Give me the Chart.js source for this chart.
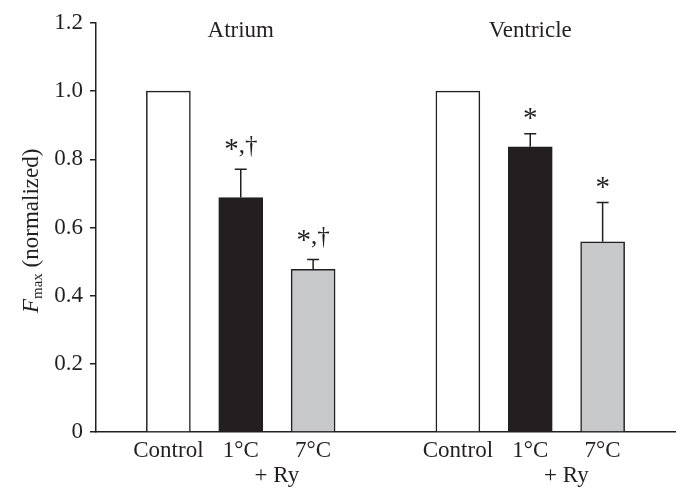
<!DOCTYPE html>
<html>
<head>
<meta charset="utf-8">
<script src="https://cdn.jsdelivr.net/npm/chart.js@4"></script>
<style>
  html, body { margin: 0; padding: 0; background: #fff; }
</style>
</head>
<body>
<canvas id="fmaxChart" width="680" height="489"></canvas>
<script>
// --- data ---
const groups = ['Atrium', 'Ventricle'];
const conditions = ['Control', '1°C', '7°C'];
const atriumMeans = [1.0, 0.688, 0.477];
const atriumErr = [0, 0.083, 0.029];
const ventricleMeans = [1.0, 0.837, 0.558];
const ventricleErr = [0, 0.038, 0.115];
const atriumMarks = ['', '*,†', '*,†'];
const ventricleMarks = ['', '*', '*'];
const yTicks = [0, 0.2, 0.4, 0.6, 0.8, 1.0, 1.2];

const ink = '#231f20';
const barColors = ['#ffffff', ink, '#c7c8ca'];
const serif = '"Liberation Serif", "Times New Roman", serif';

// one empty slot before, between and after the two groups
const labels = ['', ...conditions, '', ...conditions, ''];
const values = [null, ...atriumMeans, null, ...ventricleMeans, null];
const errors = [0, ...atriumErr, 0, ...ventricleErr, 0];
const marks = ['', ...atriumMarks, '', ...ventricleMarks, ''];
const colors = ['#fff', ...barColors, '#fff', ...barColors, '#fff'];

// draws a mark like "*,†" centred on px; the asterisk is drawn bigger and lower
function drawMark(ctx, text, px, capY) {
    const hasDagger = text.length > 1;
    const base = capY - (hasDagger ? 16 : 12);
    const starFont = '29px ' + serif;
    const restFont = '25px ' + serif;
    const rest = text.slice(1);
    ctx.font = starFont;
    const star = ctx.measureText('*');
    ctx.font = restFont;
    const restW = rest ? ctx.measureText(rest).width : 0;
    let left = px - (star.width + restW) / 2;
    ctx.textAlign = 'left';
    ctx.textBaseline = 'alphabetic';
    ctx.font = starFont;
    ctx.fillText('*', left, base - 3 - star.actualBoundingBoxDescent);
    if (rest) {
        ctx.font = restFont;
        ctx.fillText(rest, left + star.width, base);
    }
}

// error bars, significance marks, group titles, "+ Ry" and the y title
const extras = {
    id: 'extras',
    afterDatasetsDraw(chart) {
        const ctx = chart.ctx;
        const x = chart.scales.x, y = chart.scales.y;
        ctx.save();
        ctx.strokeStyle = ink;
        ctx.fillStyle = ink;
        ctx.lineWidth = 1.5;

        values.forEach((v, i) => {
            if (v === null) return;
            const px = x.getPixelForValue(i);
            const top = y.getPixelForValue(v);
            const capY = y.getPixelForValue(v + errors[i]);
            if (errors[i] > 0) {
                ctx.beginPath();
                ctx.moveTo(px, top);
                ctx.lineTo(px, capY);
                ctx.moveTo(px - 6, capY);
                ctx.lineTo(px + 6, capY);
                ctx.stroke();
            }
            if (marks[i]) drawMark(ctx, marks[i], px, capY);
        });

        ctx.font = '23px ' + serif;
        ctx.textAlign = 'center';
        ctx.textBaseline = 'alphabetic';
        groups.forEach((g, k) => {
            const first = 1 + k * 4;
            ctx.fillText(g, x.getPixelForValue(first + 1), 37);
            const ry = (x.getPixelForValue(first + 1) + x.getPixelForValue(first + 2)) / 2;
            ctx.fillText('+ Ry', ry, 482);
        });

        // y axis title: italic F with subscript max
        ctx.translate(38, 313);
        ctx.rotate(-Math.PI / 2);
        ctx.textAlign = 'left';
        ctx.font = 'italic 23px ' + serif;
        ctx.fillText('F', 0, 0);
        let off = ctx.measureText('F').width;
        ctx.font = '15px ' + serif;
        ctx.fillText('max', off, 4);
        off += ctx.measureText('max').width;
        ctx.font = '23px ' + serif;
        ctx.fillText(' (normalized)', off, 0);
        ctx.restore();
    }
};

new Chart(document.getElementById('fmaxChart'), {
    type: 'bar',
    data: {
        labels: labels,
        datasets: [{
            data: values,
            backgroundColor: colors,
            borderColor: ink,
            borderWidth: 1.5,
            borderSkipped: 'bottom',
            barThickness: 44
        }]
    },
    options: {
        responsive: false,
        animation: false,
        layout: { padding: { top: 23, right: 0, left: 0, bottom: 0 } },
        plugins: { legend: { display: false }, tooltip: { enabled: false } },
        scales: {
            x: {
                offset: false,
                grid: { display: false, drawTicks: false },
                border: { display: true, color: ink, width: 1.5 },
                ticks: {
                    autoSkip: false, maxRotation: 0, padding: 5,
                    color: ink, font: { family: serif, size: 23 }
                },
                afterFit: s => { s.height = 57; }
            },
            y: {
                min: 0,
                max: 1.2,
                afterBuildTicks: s => { s.ticks = yTicks.map(v => ({ value: v })); },
                grid: { drawOnChartArea: false, tickLength: 6, color: ink, lineWidth: 1.5 },
                border: { display: true, color: ink, width: 1.5 },
                ticks: {
                    padding: 7, color: ink, font: { family: serif, size: 23 },
                    callback: v => v === 0 ? '0' : v.toFixed(1)
                },
                afterFit: s => { s.width = 96; }
            }
        }
    },
    plugins: [extras]
});
</script>
</body>
</html>
